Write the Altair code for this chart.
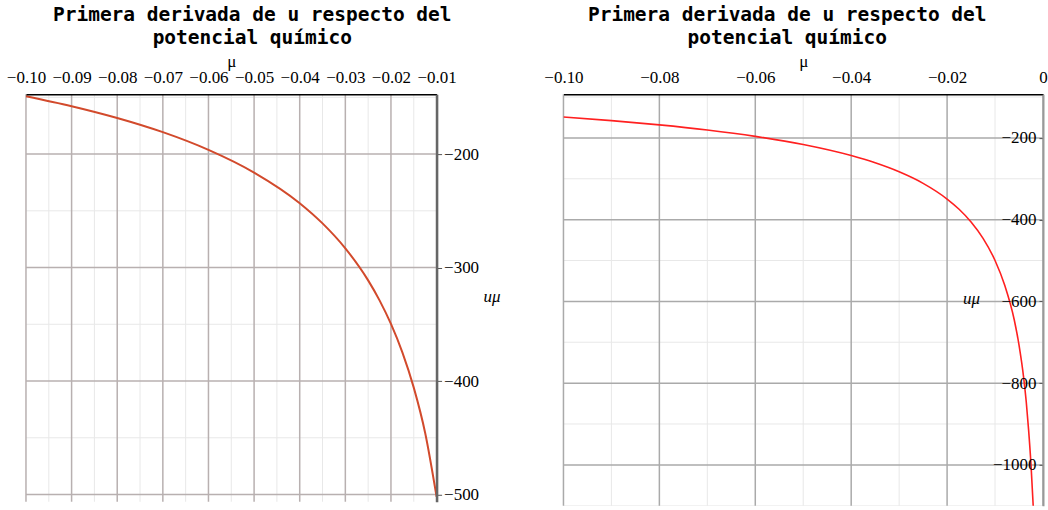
import altair as alt
import pandas as pd

# ---- data ----
left_mu = [-0.10, -0.09, -0.08, -0.07, -0.06, -0.05, -0.04, -0.035, -0.03, -0.025,
           -0.0225, -0.02, -0.0175, -0.015, -0.0125, -0.01]
left_u = [-149, -157.8, -168.2, -180.7, -196.3, -216.3, -243.3, -261.1, -283.1, -311.3,
          -328.9, -349.7, -374.7, -405.8, -445.8, -502]

right_mu = [-0.10, -0.09, -0.08, -0.07, -0.06, -0.05, -0.04, -0.035, -0.03, -0.025,
            -0.02, -0.0175, -0.015, -0.0125, -0.01, -0.008, -0.006, -0.005, -0.004,
            -0.0035, -0.003, -0.0025, -0.002, -0.0018]
right_u = [-149, -157.8, -168.2, -180.7, -196.3, -216.3, -243.3, -261.1, -283.1, -311.3,
           -349.7, -374.7, -405.8, -445.8, -500, -560, -645, -707, -790,
           -845, -915, -1000, -1110, -1160]

left_x_major = [-0.10, -0.09, -0.08, -0.07, -0.06, -0.05, -0.04, -0.03, -0.02, -0.01]
left_x_minor = [-0.095, -0.085, -0.075, -0.065, -0.055, -0.045, -0.035, -0.025, -0.015]
left_y_major = [-200, -300, -400, -500]
left_y_minor = [-150, -250, -350, -450]

right_x_major = [-0.10, -0.08, -0.06, -0.04, -0.02, 0.0]
right_x_minor = [-0.09, -0.07, -0.05, -0.03, -0.01]
right_y_major = [-200, -400, -600, -800, -1000]
right_y_minor = [-100, -300, -500, -700, -900, -1100]

title_lines = ["Primera derivada de u respecto del", "potencial químico"]

SERIF = "Liberation Serif"
MONO = "DejaVu Sans Mono"


def panel(mu, u, xdom, ydom, xmaj, xmin, ymaj, ymin, w, h, line_color, line_w,
          grid_color, yaxis, title_dx, xlabel_expr):
    xs = alt.Scale(domain=xdom, nice=False, zero=False)
    ys = alt.Scale(domain=ydom, nice=False, zero=False)
    xaxis = alt.Axis(orient="top", values=xmaj, labelExpr=xlabel_expr, title="μ",
                     titleFont=SERIF, titleFontSize=17, titleFontWeight="normal",
                     titleColor="black", titlePadding=-2,
                     labelFont=SERIF, labelFontSize=17, labelColor="black",
                     ticks=False, labelPadding=8, domainColor="black", domainWidth=1.5,
                     grid=False, zindex=1, labelFlush=False, labelOverlap=False)
    vmin = alt.Chart(pd.DataFrame({"mu": xmin})).mark_rule(
        color="#e8e8e8", strokeWidth=1).encode(x=alt.X("mu:Q", scale=xs, axis=xaxis))
    hmin = alt.Chart(pd.DataFrame({"u": ymin})).mark_rule(
        color="#e8e8e8", strokeWidth=1, clip=True).encode(y=alt.Y("u:Q", scale=ys, axis=yaxis))
    vmaj = alt.Chart(pd.DataFrame({"mu": xmaj})).mark_rule(
        color=grid_color, strokeWidth=1.5).encode(x=alt.X("mu:Q", scale=xs, axis=xaxis))
    hmaj = alt.Chart(pd.DataFrame({"u": ymaj})).mark_rule(
        color=grid_color, strokeWidth=1.5, clip=True).encode(y=alt.Y("u:Q", scale=ys, axis=yaxis))
    line = alt.Chart(pd.DataFrame({"mu": mu, "u": u})).mark_line(
        color=line_color, strokeWidth=line_w, interpolate="monotone", clip=True
    ).encode(x=alt.X("mu:Q", scale=xs, axis=xaxis),
             y=alt.Y("u:Q", scale=ys, axis=yaxis))
    return alt.layer(vmin, hmin, vmaj, hmaj, line).properties(
        width=w, height=h,
        title=alt.TitleParams(text=title_lines, font=MONO, fontSize=19.5, fontWeight="bold",
                              color="black", anchor="middle", dx=title_dx,
                              lineHeight=23, offset=4))


left_yaxis = alt.Axis(orient="right", values=left_y_major, format="d", title="uμ",
                      titleAngle=0, titleFont=SERIF, titleFontStyle="italic",
                      titleFontWeight="normal", titleFontSize=17, titleColor="black",
                      titleX=55, titleY=203, titleAlign="center", titleBaseline="middle",
                      labelFont=SERIF, labelFontSize=17, labelColor="black",
                      tickSize=5, tickColor="#555555", labelPadding=2,
                      domainColor="#666666", domainWidth=2.5, grid=False, zindex=1,
                      labelFlush=False, labelOverlap=False)

right_yaxis = alt.Axis(orient="left", offset=-480, values=right_y_major, format="d",
                       title="uμ", titleAngle=0, titleFont=SERIF, titleFontStyle="italic",
                       titleFontWeight="normal", titleFontSize=17, titleColor="black",
                       titleX=-72, titleY=205, titleAlign="center", titleBaseline="middle",
                       labelFont=SERIF, labelFontSize=17, labelColor="black",
                       tickSize=4, tickColor="#555555", labelPadding=3,
                       domainColor="#999999", domainWidth=2, grid=False, zindex=1,
                       labelFlush=False, labelOverlap=False)

left = panel(left_mu, left_u, [-0.10, -0.01], [-506.4, -147.2],
             left_x_major, left_x_minor, left_y_major, left_y_minor, 411, 408,
             "#d24a2c", 2, "#b8b0b0", left_yaxis, 21,
             "format(datum.value, '.2f')")

right = panel(right_mu, right_u, [-0.10, 0.0], [-1100, -93],
              right_x_major, right_x_minor, right_y_major, right_y_minor, 480, 412,
              "#ff2020", 1.6, "#aaaaaa", right_yaxis, -16,
              "datum.value == 0 ? '0' : format(datum.value, '.2f')")

chart = alt.hconcat(left, right, spacing=43).properties(
    padding={"left": 6, "top": 4, "right": 0, "bottom": 0},
    background="white",
).configure_view(stroke=None)

chart.save("out.html", embed_options={"renderer": "svg", "actions": False})
